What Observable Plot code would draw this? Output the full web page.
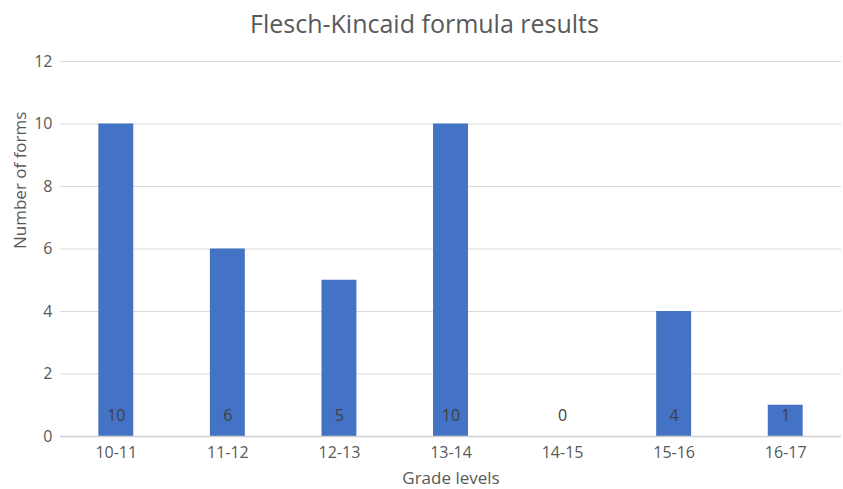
<!DOCTYPE html>
<html><head><meta charset="utf-8">
<script src="https://cdn.jsdelivr.net/npm/d3@7"></script>
<script src="https://cdn.jsdelivr.net/npm/@observablehq/plot@0.6"></script>
<style>
body{margin:0;background:#fff;font-family:"Open Sans",sans-serif;}
#title{height:45px;width:837px;padding-left:6px;text-align:center;font-size:25px;color:#595959;line-height:46px;}
</style></head><body>
<div id="title">Flesch-Kincaid formula results</div>
<div id="chart"></div>
<script>
const categories = ["10-11","11-12","12-13","13-14","14-15","15-16","16-17"];
const counts = [10,6,5,10,0,4,1];
const yTicks = [0,2,4,6,8,10,12];
const data = categories.map((c,i)=>({grade:c, n:counts[i]}));
const chart = Plot.plot({
  width:843, height:444,
  marginLeft:60, marginRight:2, marginTop:16, marginBottom:53,
  style:{fontFamily:"Open Sans, sans-serif", fontSize:"15px", color:"#595959"},
  x:{domain:categories, paddingInner:0.687, paddingOuter:0.3435, round:false, label:null},
  y:{domain:[0,12], ticks:yTicks, label:null},
  marks:[
    Plot.gridY(yTicks.filter(d=>d>0), {stroke:"#d9d9d9", strokeOpacity:1, strokeWidth:1}),
    Plot.barY(data, {x:"grade", y:"n", fill:"#4472c4"}),
    Plot.ruleY([0], {stroke:"#d0d0d0", strokeWidth:1.5}),
    Plot.text(data, {x:"grade", y:0, text:d=>String(d.n), dy:-21, fill:"#404040", fontSize:16}),
    Plot.axisY({ticks:yTicks, tickSize:0, tickPadding:8, label:null, fontSize:16}),
    Plot.axisX({tickSize:0, tickPadding:10, label:null, fontSize:16}),
    Plot.text(["Number of forms"], {frameAnchor:"left", dx:-40, rotate:-90, fontSize:17, fill:"#595959"}),
    Plot.text(["Grade levels"], {frameAnchor:"bottom", dy:47, fontSize:17, fill:"#595959"})
  ]
});
document.getElementById("chart").appendChild(chart);
</script></body></html>
